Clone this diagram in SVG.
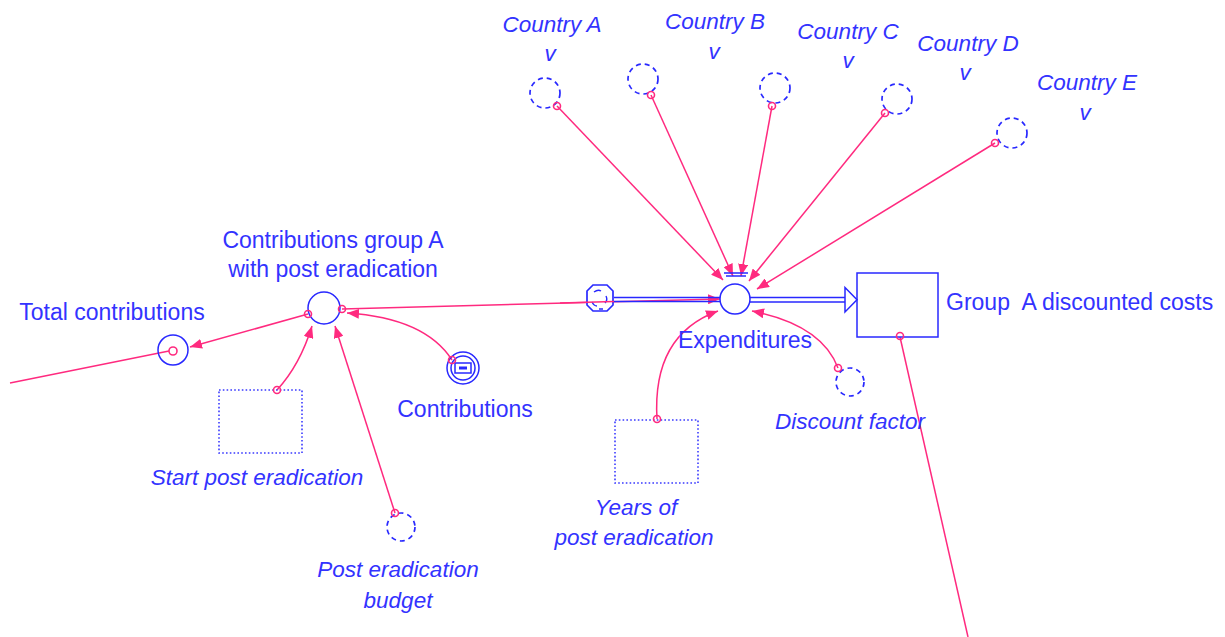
<svg xmlns="http://www.w3.org/2000/svg" width="1225" height="637" viewBox="0 0 1225 637">
<style>
text{font-family:"Liberation Sans",Arial,sans-serif;font-size:23px;fill:#3333ff;text-anchor:middle}
.it{font-style:italic;font-size:22.5px}
.node{fill:none;stroke:#2828ff;stroke-width:1.5}
.dash{fill:none;stroke:#2828ff;stroke-width:1.7;stroke-dasharray:5,4}
.dot{fill:none;stroke:#3a3aff;stroke-width:1.6;stroke-dasharray:1.6,2.2}
.link{fill:none;stroke:#ff2a7f;stroke-width:1.5}
.tail{fill:none;stroke:#ff2a7f;stroke-width:1.6}
.pipe{fill:none;stroke:#2828ff;stroke-width:1.5}
</style>
<defs>
<marker id="ah" viewBox="0 0 12 10" refX="12" refY="5" markerWidth="12" markerHeight="10" markerUnits="userSpaceOnUse" orient="auto">
<path d="M0,0 L12,5 L0,10 Z" fill="#ff2a7f"/>
</marker>
</defs>
<rect width="1225" height="637" fill="#fff"/>

<g id="connectors">
<path class="link" d="M557,106 L723,280" marker-end="url(#ah)"/>
<path class="link" d="M651,95 L733,276" marker-end="url(#ah)"/>
<path class="link" d="M772,106 L741,276" marker-end="url(#ah)"/>
<path class="link" d="M885,113 L749,281" marker-end="url(#ah)"/>
<path class="link" d="M995,143 L757,289" marker-end="url(#ah)"/>
<path class="link" d="M342,309 L720,299" marker-end="url(#ah)"/>
<path class="link" d="M308,314 L190,347" marker-end="url(#ah)"/>
<path class="link" d="M10,383 L169,351"/>
<path class="link" d="M452,360 Q425,318 347,313" marker-end="url(#ah)"/>
<path class="link" d="M277,390 Q300,365 312,326" marker-end="url(#ah)"/>
<path class="link" d="M395,513 L335,326" marker-end="url(#ah)"/>
<path class="link" d="M657,419 Q652,335 718,311" marker-end="url(#ah)"/>
<path class="link" d="M838,368 Q822,325 752,311" marker-end="url(#ah)"/>
<path class="link" d="M900,337 L968,637"/>
</g>

<g id="flow">
<path class="pipe" d="M614,297.5 H720 M614,301.5 H720"/>
<path class="pipe" d="M750,297.5 H846 M750,302 H846"/>
<path d="M845,287.5 L857,299.7 L845,312 Z" fill="#fff" stroke="#2828ff" stroke-width="1.5"/>
<path class="pipe" d="M724,273 H748 M726,276 H746"/>
</g>

<g id="cloud">
<path d="M593,285 L607,285 L613,291 L613,305 L607,311 L593,311 L587,305 L587,291 Z" fill="#fff" stroke="#2828ff" stroke-width="1.7"/>
<path d="M594,292 q4,-3 7,-1 M606,296 q2,4 -1,7 M592,302 q2,4 5,4 M599,309 h4" fill="none" stroke="#2828ff" stroke-width="1.4"/>
</g>

<g id="flow-link-overlay">
<path class="link" d="M560,303 L614,301.6"/>
</g>

<g id="country-a">
<circle class="dash" cx="545" cy="93" r="15"/>
<circle class="tail" cx="557" cy="106" r="3.5" fill="#fff"/>
<text class="it" x="552" y="32">Country A</text>
<text class="it" x="550" y="61">v</text>
</g>
<g id="country-b">
<circle class="dash" cx="643" cy="79" r="15"/>
<circle class="tail" cx="651" cy="95" r="3.5" fill="#fff"/>
<text class="it" x="715" y="29">Country B</text>
<text class="it" x="714" y="59">v</text>
</g>
<g id="country-c">
<circle class="dash" cx="775" cy="88" r="15"/>
<circle class="tail" cx="772" cy="106" r="3.5" fill="#fff"/>
<text class="it" x="848" y="39">Country C</text>
<text class="it" x="848" y="68">v</text>
</g>
<g id="country-d">
<circle class="dash" cx="897" cy="99" r="15"/>
<circle class="tail" cx="885" cy="113" r="3.5" fill="#fff"/>
<text class="it" x="968" y="51">Country D</text>
<text class="it" x="965" y="80">v</text>
</g>
<g id="country-e">
<circle class="dash" cx="1012" cy="133" r="15"/>
<circle class="tail" cx="995" cy="143" r="3.5" fill="#fff"/>
<text class="it" x="1087" y="90">Country E</text>
<text class="it" x="1085" y="120">v</text>
</g>

<g id="expenditures">
<circle class="node" cx="735" cy="299" r="15" fill="#fff"/>
<text x="745" y="348">Expenditures</text>
</g>

<g id="group-a-discounted-costs">
<rect class="node" x="857" y="273" width="81" height="64" fill="#fff"/>
<circle class="tail" cx="900" cy="336" r="3.5" fill="#fff"/>
<text x="946" y="310" style="text-anchor:start;white-space:pre" xml:space="preserve">Group  A discounted costs</text>
</g>

<g id="contributions-group-a">
<circle class="node" cx="324" cy="308" r="16" fill="#fff"/>
<circle class="tail" cx="308" cy="314" r="3.5" fill="#fff"/>
<circle class="tail" cx="342" cy="309" r="3.5" fill="#fff"/>
<text x="333" y="248">Contributions group A</text>
<text x="333" y="277">with post eradication</text>
</g>

<g id="total-contributions">
<circle class="node" cx="173" cy="350" r="15" fill="none"/>
<circle class="tail" cx="173" cy="351" r="4" fill="#fff"/>
<text x="112" y="320">Total contributions</text>
</g>

<g id="start-post-eradication">
<rect class="dot" x="219" y="390" width="83" height="63"/>
<circle class="tail" cx="277" cy="390" r="3.5" fill="#fff"/>
<text class="it" x="257" y="485">Start post eradication</text>
</g>

<g id="post-eradication-budget">
<circle class="dash" cx="401" cy="527" r="14"/>
<circle class="tail" cx="395" cy="513" r="3.5" fill="#fff"/>
<text class="it" x="398" y="577">Post eradication</text>
<text class="it" x="398" y="608">budget</text>
</g>

<g id="contributions">
<circle class="node" cx="463" cy="368" r="16" fill="#fff"/>
<circle class="node" cx="463" cy="368" r="12"/>
<rect class="node" x="455" y="363" width="16" height="10"/>
<path d="M459,368 H467" stroke="#2828ff" stroke-width="3"/>
<circle class="tail" cx="452" cy="360" r="3.5" fill="#fff"/>
<text x="465" y="417">Contributions</text>
</g>

<g id="years-of-post-eradication">
<rect class="dot" x="615" y="420" width="83" height="63"/>
<circle class="tail" cx="657" cy="419" r="3.5" fill="#fff"/>
<text class="it" x="636" y="515">Years of</text>
<text class="it" x="634" y="545">post eradication</text>
</g>

<g id="discount-factor">
<circle class="dash" cx="850" cy="382" r="14"/>
<circle class="tail" cx="838" cy="368" r="3.5" fill="#fff"/>
<text class="it" x="850" y="429">Discount factor</text>
</g>
</svg>
